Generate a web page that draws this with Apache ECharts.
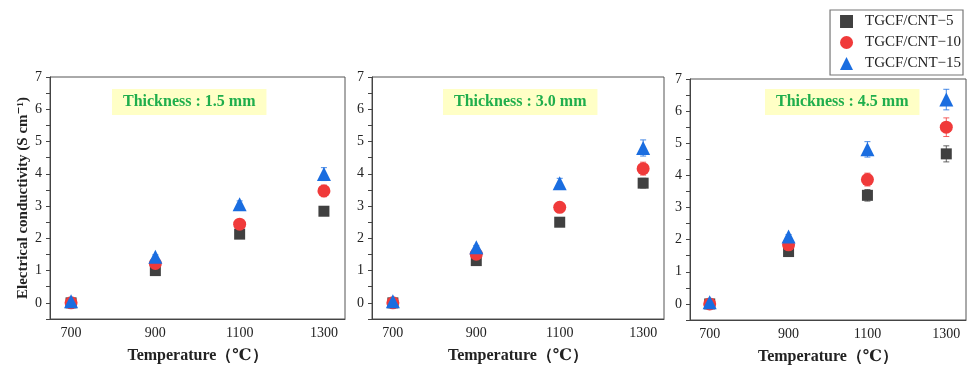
<!DOCTYPE html>
<html>
<head>
<meta charset="utf-8">
<script src="https://cdn.jsdelivr.net/npm/echarts@6/dist/echarts.min.js"></script>
<style>
  html, body { margin: 0; padding: 0; background: #fff; }
  #main { width: 967px; height: 365px; }
</style>
</head>
<body>
<div id="main"></div>
<script>
// temperatures (x) and conductivity values for each thickness
var temps = [700, 900, 1100, 1300];
var seriesNames = ['TGCF/CNT\u22125', 'TGCF/CNT\u221210', 'TGCF/CNT\u221215'];
var thicknessLabels = ['Thickness : 1.5 mm', 'Thickness : 3.0 mm', 'Thickness : 4.5 mm'];

var cnt5_15 = [0, 1.0, 2.13, 2.84];
var cnt10_15 = [0, 1.22, 2.44, 3.47];
var cnt15_15 = [0.05, 1.43, 3.06, 3.99];
var cnt5_30 = [0, 1.31, 2.5, 3.71];
var cnt10_30 = [0, 1.51, 2.96, 4.16];
var cnt15_30 = [0.05, 1.72, 3.71, 4.8];
var cnt5_45 = [0, 1.63, 3.38, 4.67];
var cnt10_45 = [0, 1.84, 3.87, 5.5];
var cnt15_45 = [0.05, 2.1, 4.81, 6.36];

// error bar half-widths
var err5_15 = [0, 0.05, 0.05, 0.08];
var err10_15 = [0, 0.06, 0.08, 0.18];
var err15_15 = [0, 0.06, 0.1, 0.2];
var err5_30 = [0, 0.06, 0.08, 0.15];
var err10_30 = [0, 0.06, 0.1, 0.2];
var err15_30 = [0, 0.06, 0.15, 0.25];
var err5_45 = [0, 0.06, 0.18, 0.25];
var err10_45 = [0, 0.06, 0.2, 0.29];
var err15_45 = [0, 0.06, 0.24, 0.32];

var panels = [
  [cnt5_15, cnt10_15, cnt15_15],
  [cnt5_30, cnt10_30, cnt15_30],
  [cnt5_45, cnt10_45, cnt15_45]
];
var errors = [
  [err5_15, err10_15, err15_15],
  [err5_30, err10_30, err15_30],
  [err5_45, err10_45, err15_45]
];

var colors = ['#404040', '#f03a3a', '#1a6de0'];
var symbols = ['rect', 'circle', 'triangle'];
var sizes = [11, 13, 14];
var serif = '"Liberation Serif", "DejaVu Serif", serif';

var grids = [
  { left: 50, top: 77, width: 295, height: 242 },
  { left: 372, top: 77, width: 292, height: 242 },
  { left: 690, top: 79, width: 276, height: 241 }
];
var titlePos = [112, 443, 765];

var myChart = echarts.init(document.getElementById('main'));

var option = {
  animation: false,
  backgroundColor: '#fff',
  title: [],
  grid: [],
  xAxis: [],
  yAxis: [],
  series: [],
  legend: {
    data: [
      { name: seriesNames[0], icon: 'rect' },
      { name: seriesNames[1], icon: 'circle' },
      { name: seriesNames[2], icon: 'triangle' }
    ],
    orient: 'vertical',
    right: 4,
    top: 10,
    padding: [4, 2, 4, 10],
    itemGap: 6,
    itemWidth: 13,
    itemHeight: 13,
    backgroundColor: '#fff',
    borderColor: '#777',
    borderWidth: 1.2,
    textStyle: { fontFamily: serif, fontSize: 15, color: '#222', padding: [0, 0, 0, 7] }
  }
};

grids.forEach(function (g, p) {
  option.grid.push({
    left: g.left, top: g.top, width: g.width, height: g.height,
    outerBoundsMode: 'none',
    containLabel: false,
    show: true, borderColor: '#555', borderWidth: 1
  });
  option.title.push({
    text: thicknessLabels[p],
    left: titlePos[p],
    top: 89,
    padding: [5, 11, 5, 11],
    backgroundColor: '#ffffc6',
    textStyle: { fontFamily: serif, fontSize: 16, fontWeight: 'bold', color: '#1fae4c' }
  });
  option.xAxis.push({
    type: 'value',
    gridIndex: p,
    min: 650,
    max: 1350,
    interval: 50,
    name: 'Temperature\uff08\u2103\uff09',
    nameLocation: 'middle',
    nameGap: 29,
    nameTextStyle: { fontFamily: serif, fontSize: 16, fontWeight: 'bold', color: '#222' },
    axisLine: { onZero: false, lineStyle: { color: '#444' } },
    axisTick: { show: false },
    splitLine: { show: false },
    axisLabel: {
      fontFamily: serif, fontSize: 14, color: '#222', margin: 7,
      formatter: function (v) { return temps.indexOf(v) >= 0 ? String(v) : ''; }
    }
  });
  option.yAxis.push({
    type: 'value',
    gridIndex: p,
    min: -0.5,
    max: 7,
    interval: 0.5,
    name: p === 0 ? 'Electrical conductivity (S cm\u207b\u00b9)' : '',
    nameLocation: 'middle',
    nameGap: 19,
    nameTextStyle: { fontFamily: serif, fontSize: 15, fontWeight: 'bold', color: '#222' },
    axisLine: { show: true, onZero: false, lineStyle: { color: '#444' } },
    axisTick: { show: true, length: 4, lineStyle: { color: '#444' } },
    splitLine: { show: false },
    axisLabel: {
      fontFamily: serif, fontSize: 14, color: '#222', margin: 8,
      formatter: function (v) { return (v >= 0 && Math.abs(v - Math.round(v)) < 1e-6) ? String(Math.round(v)) : ''; }
    }
  });

  panels[p].forEach(function (vals, s) {
    var errs = errors[p][s];
    var errData = temps.map(function (t, i) { return [t, vals[i] - errs[i], vals[i] + errs[i]]; });
    option.series.push({
      type: 'custom',
      xAxisIndex: p,
      yAxisIndex: p,
      silent: true,
      z: 2,
      data: errData,
      renderItem: function (params, api) {
        var x = api.value(0);
        var lo = api.coord([x, api.value(1)]);
        var hi = api.coord([x, api.value(2)]);
        var cap = 3;
        var st = { stroke: colors[s], lineWidth: 1, opacity: 0.8 };
        return {
          type: 'group',
          children: [
            { type: 'line', shape: { x1: lo[0], y1: lo[1], x2: hi[0], y2: hi[1] }, style: st },
            { type: 'line', shape: { x1: lo[0] - cap, y1: lo[1], x2: lo[0] + cap, y2: lo[1] }, style: st },
            { type: 'line', shape: { x1: hi[0] - cap, y1: hi[1], x2: hi[0] + cap, y2: hi[1] }, style: st }
          ]
        };
      }
    });
    option.series.push({
      type: 'scatter',
      name: seriesNames[s],
      xAxisIndex: p,
      yAxisIndex: p,
      symbol: symbols[s],
      symbolSize: sizes[s],
      z: 3 + s,
      itemStyle: { color: colors[s], opacity: 1 },
      data: temps.map(function (t, i) { return [t, vals[i]]; })
    });
  });
});

myChart.setOption(option);

window.addEventListener('resize', function () {
  myChart.resize();
});
</script>
</body>
</html>
